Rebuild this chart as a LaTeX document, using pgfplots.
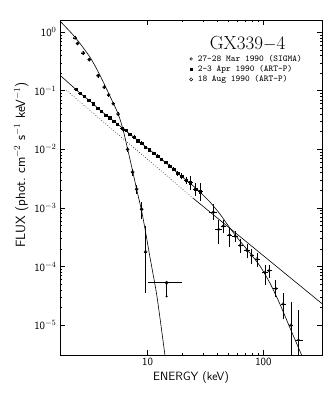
\documentclass[border=0pt]{standalone}
\usepackage{pgfplots}
\pgfplotsset{compat=1.18}

\begin{document}
\begin{tikzpicture}
\begin{axis}[
  at={(60pt,39pt)}, anchor=south west,
  scale only axis, width=262pt, height=335pt,
  xmode=log, ymode=log,
  xmin=1.75, xmax=321, ymin=3.1e-6, ymax=1.61,
  xtick={10,100}, xticklabels={10,100},
  ytick={1e-5,1e-4,1e-3,1e-2,1e-1,1},
  yticklabels={10$^{-5}$,10$^{-4}$,10$^{-3}$,10$^{-2}$,10$^{-1}$,10$^{0}$},
  tick label style={font=\sffamily\fontsize{11}{13}\selectfont},
  xlabel={ENERGY (keV)},
  ylabel={FLUX (phot.\ cm$^{-2}$ s$^{-1}$ keV$^{-1}$)},
  xlabel style={font=\sffamily\fontsize{12}{14}\selectfont, yshift=2pt},
  ylabel style={font=\sffamily\fontsize{13.4}{15}\selectfont,
    at={(ticklabel cs:0.567)}, yshift=-1pt},
  tick align=inside, major tick length=5pt, minor tick length=2.5pt,
  axis line style={line width=0.9pt},
  every tick/.style={black, line width=0.5pt},
  error bars/error mark=none,
  error bars/error bar style={line width=0.6pt},
  legend style={draw=none, fill=none, at={(0.49,0.905)}, anchor=north west,
    font=\ttfamily\fontsize{9}{9.5}\selectfont, row sep=-1.5pt,
    inner sep=1pt},
  legend cell align=left,
]
% 27-28 Mar 1990 SIGMA
\addplot[only marks, mark=o, mark size=1.3pt, line width=0.5pt,
  error bars/.cd, x dir=both, x explicit, y dir=both, y explicit] coordinates {
  (37,8.5e-4)  += (3,3.0e-4)  -= (3,2.2e-4)
  (41,4.3e-4)  += (3,1.9e-4)  -= (2.5,1.9e-4)
  (45,4.9e-4)  += (3,1.3e-4)  -= (2,1.1e-4)
  (51,3.45e-4) += (3,1.15e-4) -= (2.5,1.25e-4)
  (57,3.3e-4)  += (3,0.7e-4)  -= (3,0.7e-4)
  (63,2.3e-4)  += (4,0.6e-4)  -= (3,0.6e-4)
  (72,1.9e-4)  += (4,0.5e-4)  -= (4,0.5e-4)
  (79,1.55e-4) += (4,0.45e-4) -= (3,0.45e-4)
  (88,1.35e-4) += (5,0.35e-4) -= (4,0.35e-4)
  (103,8.0e-5) += (6,2.7e-5)  -= (6,3.2e-5)
  (112,8.5e-5) += (6,2.0e-5)  -= (5,2.0e-5)
  (128,4.2e-5) += (7,1.7e-5)  -= (7,1.2e-5)
  (148,2.3e-5) += (8,1.2e-5)  -= (7,1.0e-5)
  (173,1.0e-5) += (7,1.5e-5)  -= (6,0.8e-5)
  (200,5.6e-6) += (21,1.24e-5) -= (13,3.6e-6)
};
\addlegendentry{\hspace{3pt}27-28 Mar 1990 (SIGMA)}
% 2-3 Apr 1990 ART-P
\addplot[only marks, mark=square*, mark size=1.1pt,
  error bars/.cd, x dir=both, x explicit, y dir=both, y explicit] coordinates {
  (2.4,0.107)   += (0.08,0.006) -= (0.08,0.006)
  (2.6,0.092)   += (0.08,0.005) -= (0.08,0.005)
  (2.85,0.080)  += (0.1,0.004)  -= (0.1,0.004)
  (3.1,0.068)   += (0.1,0.003)  -= (0.1,0.003)
  (3.4,0.060)   += (0.1,0.003)  -= (0.1,0.003)
  (3.7,0.050)   += (0.1,0.002)  -= (0.1,0.002)
  (4.0,0.045)   += (0.1,0.002)  -= (0.1,0.002)
  (4.35,0.0385) += (0.1,0.002)  -= (0.1,0.002)
  (4.7,0.0348)  += (0.1,0.002)  -= (0.1,0.002)
  (5.1,0.0300)  += (0.15,0.001) -= (0.15,0.001)
  (5.5,0.0272)  += (0.15,0.001) -= (0.15,0.001)
  (6.0,0.0233)  += (0.2,0.001)  -= (0.2,0.001)
  (6.5,0.0210)  += (0.2,0.001)  -= (0.2,0.001)
  (7.0,0.0182)  += (0.2,0.001)  -= (0.2,0.001)
  (7.6,0.0163)  += (0.25,0.001) -= (0.25,0.001)
  (8.2,0.0141)  += (0.25,0.001) -= (0.25,0.001)
  (8.9,0.0127)  += (0.3,0.001)  -= (0.3,0.001)
  (9.6,0.0110)  += (0.3,0.0006) -= (0.3,0.0006)
  (10.4,0.0099) += (0.35,0.0006) -= (0.35,0.0006)
  (11.3,0.0085) += (0.4,0.0005) -= (0.4,0.0005)
  (12.2,0.0077) += (0.4,0.0005) -= (0.4,0.0005)
  (13.2,0.0067) += (0.5,0.0004) -= (0.5,0.0004)
  (14.3,0.0060) += (0.5,0.0004) -= (0.5,0.0004)
  (15.5,0.0052) += (0.6,0.0004) -= (0.6,0.0004)
  (16.8,0.0046) += (0.6,0.0004) -= (0.6,0.0004)
  (18.2,0.0039) += (0.7,0.0004) -= (0.7,0.0004)
  (19.7,0.0035) += (0.8,0.0004) -= (0.8,0.0004)
  (21.5,0.0030) += (1.0,0.0004) -= (1.0,0.0004)
  (23.5,0.0027) += (1.2,0.0008) -= (1.2,0.0007)
  (26,0.0021)   += (1.3,0.0006) -= (1.3,0.0005)
  (28.5,0.0019) += (1.5,0.0008) -= (1.5,0.0006)
};
\addlegendentry{\hspace{3pt}2-3 Apr 1990 (ART-P)}
% 18 Aug 1990 ART-P
\addplot[only marks, mark=o, mark size=1.6pt, line width=0.5pt,
  error bars/.cd, x dir=both, x explicit, y dir=both, y explicit] coordinates {
  (2.36,0.80)    += (0.08,0.05) -= (0.08,0.05)
  (2.48,0.64)    += (0.08,0.04) -= (0.08,0.04)
  (2.77,0.44)    += (0.1,0.03)  -= (0.1,0.03)
  (3.13,0.34)    += (0.1,0.02)  -= (0.1,0.02)
  (3.74,0.18)    += (0.1,0.012) -= (0.1,0.012)
  (4.22,0.115)   += (0.12,0.008) -= (0.12,0.008)
  (4.6,0.085)    += (0.12,0.006) -= (0.12,0.006)
  (5.05,0.060)   += (0.15,0.004) -= (0.15,0.004)
  (5.55,0.040)   += (0.15,0.003) -= (0.15,0.003)
  (6.15,0.0219)  += (0.2,0.002)  -= (0.2,0.002)
  (6.72,0.0100)  += (0.2,0.001)  -= (0.2,0.001)
  (7.42,0.0041)  += (0.25,0.0006) -= (0.25,0.0006)
  (8.04,0.0021)  += (0.25,0.0004) -= (0.25,0.0004)
  (8.88,0.00095) += (0.3,0.0003) -= (0.3,0.0003)
  (9.61,1.78e-4) += (0.3,3.1e-4) -= (0.3,1.43e-4)
  (14.6,5.3e-5)  += (5.1,0)      -= (4.6,2.2e-5)
};
\addlegendentry{\hspace{3pt}18 Aug 1990 (ART-P)}
\addplot[only marks, mark=*, mark size=0.8pt, forget plot] coordinates {(14.6,3.1e-5)};

% soft state model
\addplot[black, line width=0.6pt, smooth, tension=0.4, forget plot] coordinates {
  (1.746,1.55) (2.355,0.825) (3.17,0.376) (3.87,0.185) (4.72,0.0812)
  (5.57,0.0400) (6.15,0.0213) (6.72,0.0101) (7.42,0.00426) (8.03,0.00210)
  (8.88,8.85e-4) (9.67,3.59e-4) (10.47,1.45e-4) (12.03,3.14e-5) (14.11,3.09e-6)
};
% hard state model (ART-P + SIGMA)
\addplot[black, line width=0.6pt, smooth, tension=0.4, forget plot] coordinates {
  (1.746,0.185) (2.13,0.130) (2.60,0.0914) (3.17,0.0668) (3.87,0.0469)
  (4.72,0.0342) (5.76,0.0250) (7.03,0.0182) (8.58,0.0133) (10.47,0.00973)
  (12.77,0.00711) (15.58,0.00519) (19.0,0.00364) (23.2,0.00266) (28.3,0.00187)
  (34.6,0.00126) (42.2,7.87e-4) (51.4,4.54e-4) (62.8,2.72e-4) (76.6,1.70e-4)
  (93.5,1.02e-4) (114,5.23e-5) (139,2.29e-5) (170,8.93e-6) (214,3.09e-6)
};
% power law component
\addplot[black, line width=0.6pt, dotted, forget plot] coordinates {(1.97,0.103) (24.8,0.00146)};
\addplot[black, line width=0.6pt, forget plot] coordinates {(24.8,0.00146) (321,2.33e-5)};

\node[anchor=south west, font=\ttfamily\fontsize{11.5}{12}\selectfont, inner sep=0pt]
  at (rel axis cs:0.005,1.02) {GRANAT/ART-P/SIGMA};
\node[font=\fontsize{19}{22}\selectfont] at (rel axis cs:0.716,0.930) {GX339$-$4};
\end{axis}
\pgfresetboundingbox
\path[use as bounding box] (0,0) rectangle (327pt,394pt);
\end{tikzpicture}
\end{document}
